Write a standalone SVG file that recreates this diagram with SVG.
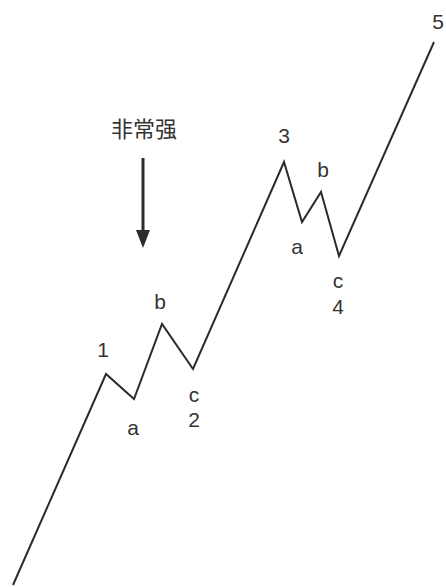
<svg xmlns="http://www.w3.org/2000/svg" width="446" height="587" viewBox="0 0 446 587">
<style>
.w{fill:none;stroke:#2b2b2b;stroke-width:2;stroke-linejoin:miter}
.t{font-family:"Liberation Sans","Noto Sans CJK SC",sans-serif;font-size:21px;fill:#333;text-anchor:middle}
.c{font-family:"Noto Sans CJK SC",sans-serif;font-size:22px;fill:#333;text-anchor:middle}
</style>
<rect width="446" height="587" fill="#fff"/>
<g id="connectors">
<polyline class="w" points="13,585 106,374 134,399 162,324 193,369 284,162 302,222 321,192 339,256 434,42"/>
<line x1="143" y1="158" x2="143" y2="234" stroke="#2b2b2b" stroke-width="3"/>
<polygon points="136,230 150,230 143,248" fill="#2b2b2b"/>
</g>
<g id="label-strong"><text class="c" x="144" y="137">非常强</text></g>
<g id="n1"><text class="t" x="103" y="357">1</text></g>
<g id="n1a"><text class="t" x="133" y="435">a</text></g>
<g id="n1b"><text class="t" x="160" y="309">b</text></g>
<g id="n2"><text class="t" x="194" y="402">c</text><text class="t" x="194" y="427">2</text></g>
<g id="n3"><text class="t" x="284" y="143">3</text></g>
<g id="n3a"><text class="t" x="297" y="254">a</text></g>
<g id="n3b"><text class="t" x="323" y="177">b</text></g>
<g id="n4"><text class="t" x="338" y="288">c</text><text class="t" x="338" y="314">4</text></g>
<g id="n5"><text class="t" x="438" y="29">5</text></g>
</svg>
